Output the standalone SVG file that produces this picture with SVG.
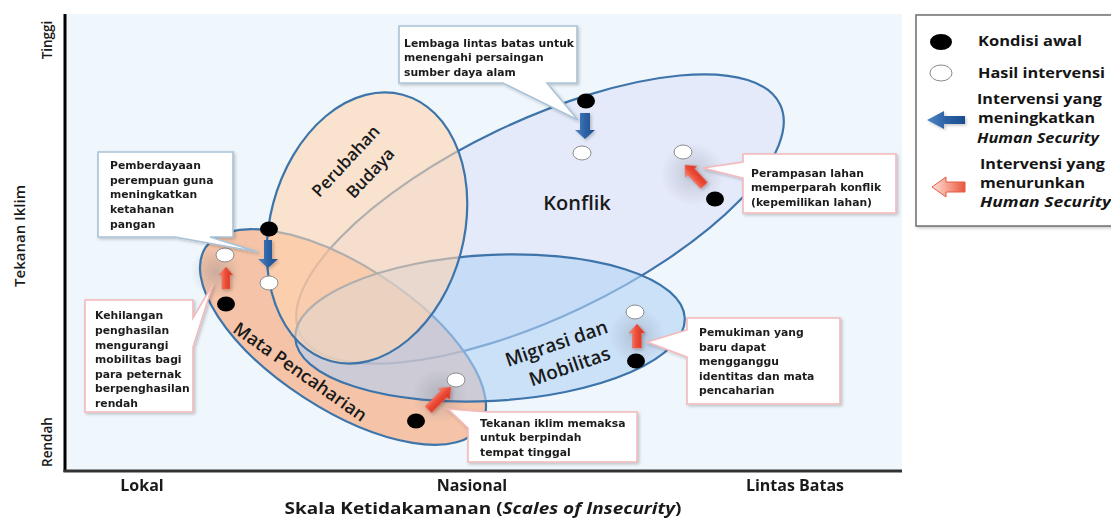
<svg xmlns="http://www.w3.org/2000/svg" width="1111" height="518" viewBox="0 0 1111 518">
<defs>
<style>
.co{font-family:"DejaVu Sans",Verdana,sans-serif;font-weight:700;font-size:10.8px;fill:#1c1c1c}
.lg{font-family:"Open Sans","Noto Sans",sans-serif;font-weight:700;font-size:14px;fill:#151515}
.ax{font-family:"Open Sans","Noto Sans",sans-serif;font-weight:700;font-size:16px;fill:#1a1a1a}
.vl{font-family:"Open Sans","Noto Sans",sans-serif;font-weight:600;fill:#1a1a1a}
.el{font-family:"Open Sans","Noto Sans",sans-serif;font-weight:600;fill:#1a1a1a}
.ring{stroke:#3d74aa;stroke-width:2.2}
.blk{fill:#000}
.wht{fill:#fff;stroke:#8a8a8a;stroke-width:1}
.cb{fill:#fff;stroke:#a9c2d8;stroke-width:1.6}
.cp{fill:#fff;stroke:#f3b9bb;stroke-width:1.6}
.ra{fill:url(#redG);stroke:#e66a58;stroke-width:0.6}
.ba{fill:url(#blueG)}
</style>
<linearGradient id="redG" x1="0" y1="0" x2="1" y2="0">
<stop offset="0" stop-color="#f7907a"/>
<stop offset="0.45" stop-color="#ee4d38"/>
<stop offset="1" stop-color="#cf2f1d"/>
</linearGradient>
<linearGradient id="blueG" x1="0" y1="0" x2="1" y2="0">
<stop offset="0" stop-color="#4f86c6"/>
<stop offset="0.5" stop-color="#2d62a6"/>
<stop offset="1" stop-color="#1d4c8e"/>
</linearGradient>
<linearGradient id="redL" x1="0" y1="0" x2="1" y2="0">
<stop offset="0" stop-color="#fde2dc"/>
<stop offset="0.6" stop-color="#f48f7c"/>
<stop offset="1" stop-color="#e9553f"/>
</linearGradient>
<radialGradient id="glow">
<stop offset="0" stop-color="#6f7383" stop-opacity="0.3"/>
<stop offset="1" stop-color="#6f7383" stop-opacity="0"/>
</radialGradient>
<filter id="sh" x="-20%" y="-20%" width="150%" height="150%">
<feDropShadow dx="1.5" dy="1.5" stdDeviation="1.5" flood-color="#000" flood-opacity="0.22"/>
</filter>
</defs>

<rect x="0" y="0" width="1111" height="518" fill="#fff"/>
<rect id="plot-area" x="65" y="14" width="837" height="457" fill="#eff7fd"/>

<g id="region-konflik">
<ellipse cx="540" cy="219" rx="266" ry="98" transform="rotate(-25.5 540 219)" fill="#e5eafb" class="ring"/>
</g>
<g id="region-mata-pencaharian">
<ellipse cx="343" cy="337" rx="164" ry="72" transform="rotate(33 343 337)" fill="#f9a475" fill-opacity="0.62" class="ring"/>
</g>
<g id="region-migrasi">
<ellipse cx="490" cy="328" rx="195" ry="73" transform="rotate(-3 490 328)" fill="#b3d2f5" fill-opacity="0.6" class="ring"/>
</g>
<g id="region-perubahan-budaya">
<ellipse cx="367" cy="228" rx="138" ry="97" transform="rotate(-75 367 228)" fill="#ffd6b1" fill-opacity="0.6" class="ring"/>
</g>

<g id="region-labels">
<g transform="translate(358,167) rotate(-47)">
<text class="el" font-size="17" text-anchor="middle" x="-4" y="-7">Perubahan</text>
<text class="el" font-size="17" text-anchor="middle" x="4" y="19">Budaya</text>
</g>
<text class="el" font-size="20" text-anchor="middle" x="577" y="210">Konflik</text>
<g transform="translate(563,355) rotate(-19)">
<text class="el" font-size="19" text-anchor="middle" x="-2.5" y="-6.5">Migrasi dan</text>
<text class="el" font-size="19" text-anchor="middle" x="2.5" y="19.5">Mobilitas</text>
</g>
<text class="el" font-size="18" text-anchor="middle" transform="translate(300,372) rotate(35)" y="6">Mata Pencaharian</text>
</g>

<g id="glows">
<circle cx="693" cy="174" r="32" fill="url(#glow)"/>
<circle cx="637" cy="336" r="28" fill="url(#glow)"/>
<circle cx="440" cy="396" r="28" fill="url(#glow)"/>
<circle cx="216" cy="272" r="26" fill="url(#glow)"/>
</g>

<g id="connectors" filter="url(#sh)">
<path class="ba" d="M268,268 L258,259 L264,259 L264,240 L272,240 L272,259 L278,259 Z"/>
<path class="ba" d="M585,139 L575,130 L580,130 L580,113 L590,113 L590,130 L595,130 Z"/>
<path class="ra" d="M226,267 L233,275 L230,275 L230,289 L222,289 L222,275 L219,275 Z"/>
<path class="ra" d="M637,324 L645,333 L641.5,333 L641.5,348 L632.5,348 L632.5,333 L629,333 Z"/>
<path class="ra" transform="translate(685,165) rotate(-43)" d="M0,0 L8,9 L4.5,9 L4.5,28 L-4.5,28 L-4.5,9 L-8,9 Z"/>
<path class="ra" transform="translate(451,387) rotate(45)" d="M0,0 L8,10 L4.5,10 L4.5,32 L-4.5,32 L-4.5,10 L-8,10 Z"/>
</g>

<g id="points">
<ellipse class="blk" cx="269" cy="229" rx="9" ry="7.5"/>
<ellipse class="wht" cx="269" cy="283" rx="9" ry="7"/>
<ellipse class="wht" cx="225" cy="255" rx="9" ry="7"/>
<ellipse class="blk" cx="226" cy="304" rx="9" ry="7.5"/>
<ellipse class="blk" cx="586" cy="101" rx="9" ry="7.5"/>
<ellipse class="wht" cx="582" cy="153" rx="9" ry="7"/>
<ellipse class="wht" cx="683" cy="152" rx="9" ry="7"/>
<ellipse class="blk" cx="715" cy="199" rx="9" ry="7.5"/>
<ellipse class="wht" cx="635" cy="312" rx="9" ry="7"/>
<ellipse class="blk" cx="636" cy="361" rx="9" ry="7.5"/>
<ellipse class="wht" cx="456" cy="380" rx="9" ry="7"/>
<ellipse class="blk" cx="416" cy="421" rx="9" ry="7.5"/>
</g>

<g id="callout-pemberdayaan">
<path class="cb" filter="url(#sh)" d="M98,152 H233 V237 H210 L258,252 L175,237 H98 Z"/>
<text class="co" x="110" y="169">Pemberdayaan</text>
<text class="co" x="110" y="184">perempuan guna</text>
<text class="co" x="110" y="198">meningkatkan</text>
<text class="co" x="110" y="213">ketahanan</text>
<text class="co" x="110" y="228">pangan</text>
</g>

<g id="callout-lembaga">
<path class="cb" filter="url(#sh)" d="M399,26 H577 V83 H547 L578,120 L503,83 H399 Z"/>
<text class="co" x="404" y="47">Lembaga lintas batas untuk</text>
<text class="co" x="404" y="61">menengahi persaingan</text>
<text class="co" x="404" y="76">sumber daya alam</text>
</g>

<g id="callout-perampasan">
<path class="cp" filter="url(#sh)" d="M743,154 H896 V213 H743 V178 L703,168 L743,162 Z"/>
<text class="co" x="751" y="177">Perampasan lahan</text>
<text class="co" x="751" y="191">memperparah konflik</text>
<text class="co" x="751" y="206">(kepemilikan lahan)</text>
</g>

<g id="callout-kehilangan">
<path class="cp" filter="url(#sh)" d="M85,300 H193 V318 L213,284 L193,347 V412 H85 Z"/>
<text class="co" x="95" y="319">Kehilangan</text>
<text class="co" x="95" y="334">penghasilan</text>
<text class="co" x="95" y="349">mengurangi</text>
<text class="co" x="95" y="363">mobilitas bagi</text>
<text class="co" x="95" y="378">para peternak</text>
<text class="co" x="95" y="392">berpenghasilan</text>
<text class="co" x="95" y="407">rendah</text>
</g>

<g id="callout-tekanan">
<path class="cp" filter="url(#sh)" d="M488,412 H637 V462 H468 V428 L448,409 Z"/>
<text class="co" x="480" y="427">Tekanan iklim memaksa</text>
<text class="co" x="480" y="441">untuk berpindah</text>
<text class="co" x="480" y="456">tempat tinggal</text>
</g>

<g id="callout-pemukiman">
<path class="cp" filter="url(#sh)" d="M687,318 H840 V404 H687 V357 L647,342 L687,330 Z"/>
<text class="co" x="699" y="336">Pemukiman yang</text>
<text class="co" x="699" y="351">baru dapat</text>
<text class="co" x="699" y="365">mengganggu</text>
<text class="co" x="699" y="380">identitas dan mata</text>
<text class="co" x="699" y="394">pencaharian</text>
</g>

<g id="axes">
<line x1="65" y1="14" x2="65" y2="472" stroke="#000" stroke-width="3"/>
<line x1="63.5" y1="471" x2="902" y2="471" stroke="#333" stroke-width="3"/>
<text class="vl" font-size="13.5" text-anchor="middle" transform="translate(52,40) rotate(-90)">Tinggi</text>
<text class="vl" font-size="13.5" text-anchor="middle" transform="translate(52,442) rotate(-90)">Rendah</text>
<text class="vl" font-size="15" text-anchor="middle" transform="translate(25,236) rotate(-90)">Tekanan Iklim</text>
<text class="ax" text-anchor="middle" x="142" y="491">Lokal</text>
<text class="ax" text-anchor="middle" x="472" y="491">Nasional</text>
<text class="ax" text-anchor="middle" x="795" y="491">Lintas Batas</text>
<text class="ax" font-size="16.5" text-anchor="middle" x="483" y="514" textLength="397" lengthAdjust="spacingAndGlyphs">Skala Ketidakamanan (<tspan font-style="italic">Scales of Insecurity</tspan>)</text>
</g>

<g id="legend">
<rect x="916" y="15" width="205" height="211" fill="#fff" stroke="#6e6e6e" stroke-width="1.5" filter="url(#sh)"/>
<ellipse class="blk" cx="941" cy="42" rx="11" ry="8"/>
<text class="lg" x="978" y="46" textLength="104" lengthAdjust="spacingAndGlyphs">Kondisi awal</text>
<ellipse class="wht" cx="941" cy="73" rx="11" ry="8"/>
<text class="lg" x="978" y="78" textLength="127" lengthAdjust="spacingAndGlyphs">Hasil intervensi</text>
<path class="ba" filter="url(#sh)" d="M927,120 L944,111 L944,116 L965,116 L965,124 L944,124 L944,129 Z"/>
<text class="lg" x="977" y="104" textLength="125" lengthAdjust="spacingAndGlyphs">Intervensi yang</text>
<text class="lg" x="978" y="123" textLength="117" lengthAdjust="spacingAndGlyphs">meningkatkan</text>
<text class="lg" x="977" y="143" font-style="italic" textLength="122" lengthAdjust="spacingAndGlyphs">Human Security</text>
<path d="M932,187 L946,177 L946,182 L965,182 L965,192 L946,192 L946,197 Z" fill="url(#redL)" stroke="#e55a45" stroke-width="1"/>
<text class="lg" x="980" y="169" textLength="125" lengthAdjust="spacingAndGlyphs">Intervensi yang</text>
<text class="lg" x="980" y="188" textLength="105" lengthAdjust="spacingAndGlyphs">menurunkan</text>
<text class="lg" x="980" y="207" font-style="italic" textLength="131" lengthAdjust="spacingAndGlyphs">Human Security</text>
</g>
</svg>
